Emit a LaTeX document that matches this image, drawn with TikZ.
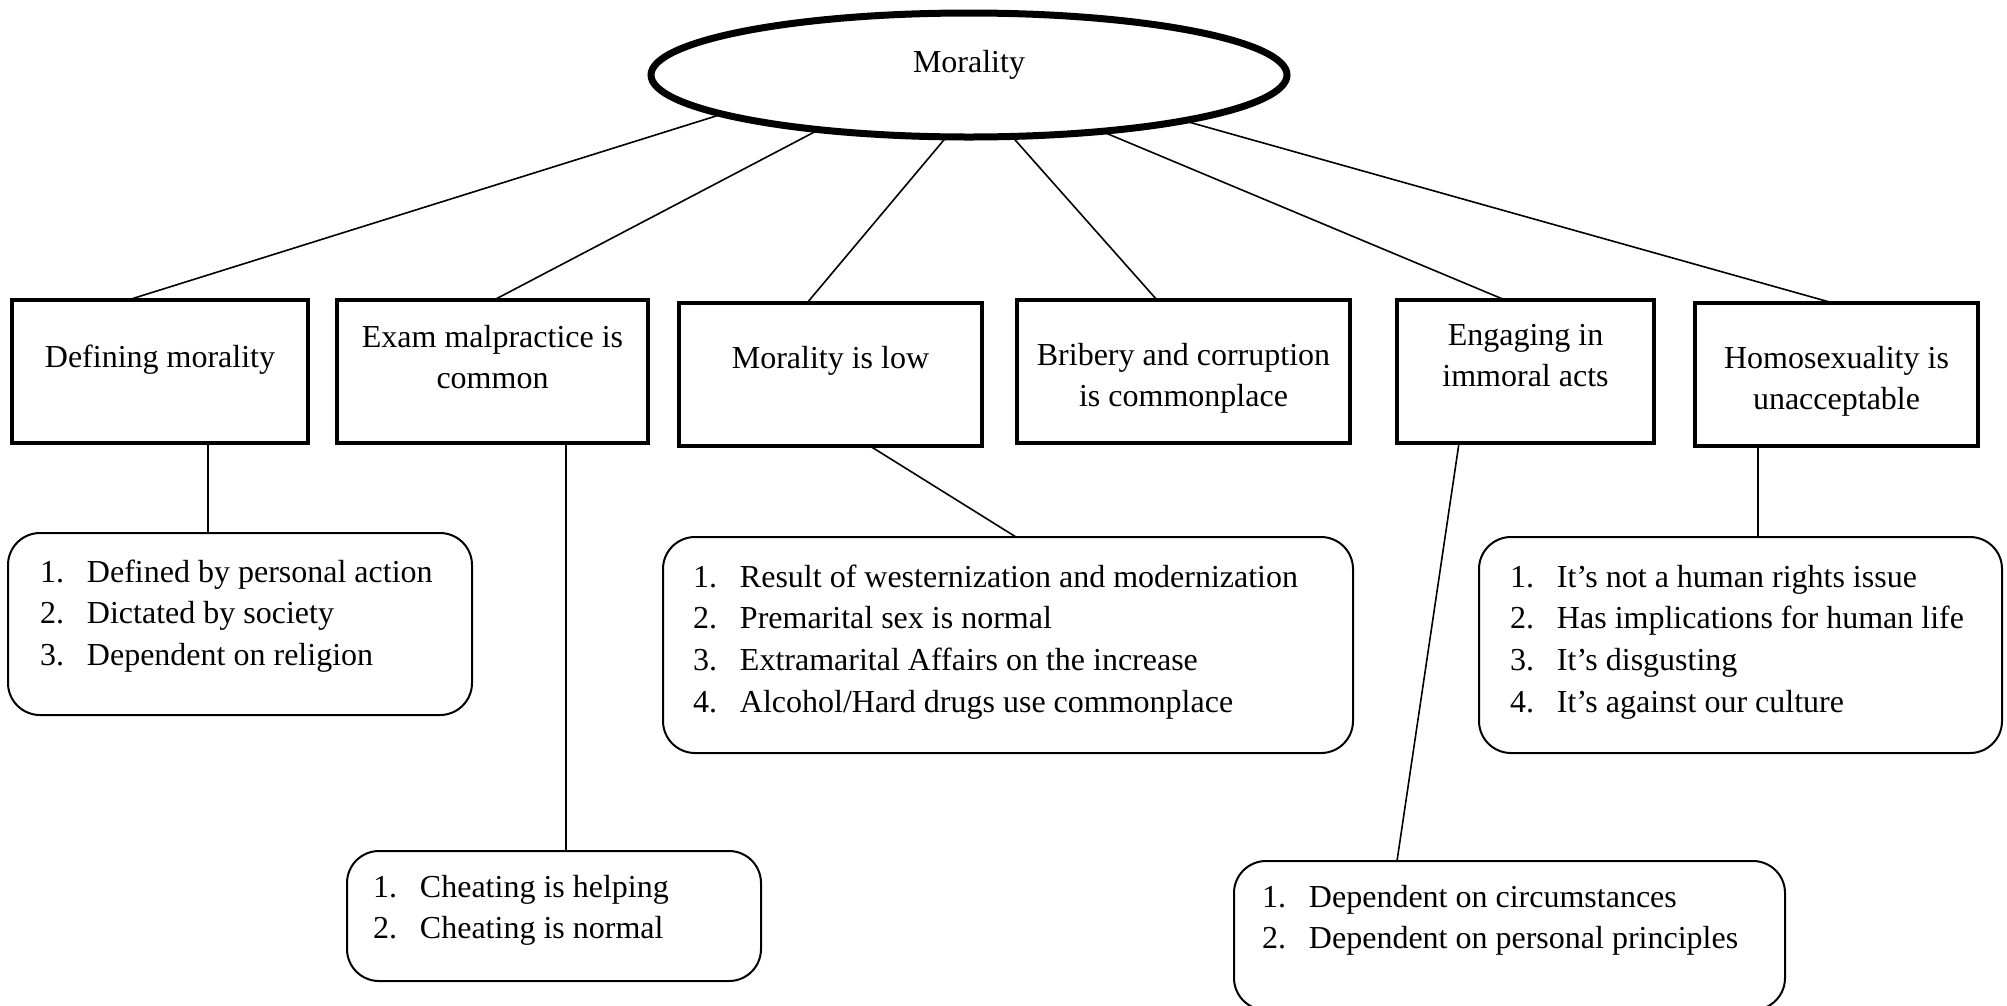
\documentclass[tikz,border=0pt]{standalone}
\usepackage{fontspec}
\setmainfont{Liberation Serif}
\usetikzlibrary{shapes.geometric,calc}
\newcommand\itemno[1]{\makebox[47pt][l]{#1}}
\begin{document}
\begin{tikzpicture}[x=1pt,y=-1pt,
  every node/.style={inner sep=0pt,outer sep=0pt},
  txt/.style={font=\fontsize{32}{41.7}\selectfont,anchor=base},
  listtxt/.style={font=\fontsize{32}{41.7}\selectfont,anchor=base west},
  topic/.style={draw,line width=4pt,rectangle},
  listbox/.style={draw,line width=2pt,rectangle,rounded corners=32pt},
  link/.style={line width=1.6pt}]

\fill[white] (0,0) rectangle (2007,1005);
\useasboundingbox (0,0) rectangle (2007,1005);

% central concept
\node[ellipse,draw,line width=7pt,minimum width=636pt,minimum height=124pt] (root) at (969,75) {};
\node[txt] (rootlabel) at (969,72) {Morality};

% themes
\node[topic,minimum width=296pt,minimum height=143pt] (b1) at (160,371.5) {};
\node[topic,minimum width=311pt,minimum height=143pt] (b2) at (492.5,371.5) {};
\node[topic,minimum width=303pt,minimum height=143pt] (b3) at (830.5,374.5) {};
\node[topic,minimum width=333pt,minimum height=143pt] (b4) at (1183.5,371.5) {};
\node[topic,minimum width=257pt,minimum height=143pt] (b5) at (1525.5,371.5) {};
\node[topic,minimum width=283pt,minimum height=143pt] (b6) at (1836.5,374.5) {};

\node[txt] (t1) at (160,367) {Defining morality};
\node[txt] (t2) at (492.5,347) {\begin{tabular}[t]{@{}c@{}}Exam malpractice is\\common\end{tabular}};
\node[txt] (t3) at (830.5,368) {Morality is low};
\node[txt] (t4) at (1183.5,365) {\begin{tabular}[t]{@{}c@{}}Bribery and corruption\\is commonplace\end{tabular}};
\node[txt] (t5) at (1525.5,345) {\begin{tabular}[t]{@{}c@{}}Engaging in\\immoral acts\end{tabular}};
\node[txt] (t6) at (1836.5,368) {\begin{tabular}[t]{@{}c@{}}Homosexuality is\\unacceptable\end{tabular}};

% sub-themes (the last one runs past the lower edge of the page)
\node[listbox,minimum width=464pt,minimum height=182pt] (lA) at (240,624) {};
\node[listbox,minimum width=414pt,minimum height=130pt] (lB) at (554,916) {};
\node[listbox,minimum width=690pt,minimum height=216pt] (lC) at (1008,645) {};
\node[listbox,minimum width=523pt,minimum height=216pt] (lD) at (1740.5,645) {};
\node[listbox,minimum width=551pt,minimum height=149pt] (lE) at (1509.5,935.5) {};

\node[listtxt] (sA) at (40,582) {\begin{tabular}[t]{@{}l@{}}
  \itemno{1.}Defined by personal action\\
  \itemno{2.}Dictated by society\\
  \itemno{3.}Dependent on religion\end{tabular}};
\node[listtxt] (sB) at (373,897) {\begin{tabular}[t]{@{}l@{}}
  \itemno{1.}Cheating is helping\\
  \itemno{2.}Cheating is normal\end{tabular}};
\node[listtxt] (sC) at (693,587) {\begin{tabular}[t]{@{}l@{}}
  \itemno{1.}Result of westernization and modernization\\
  \itemno{2.}Premarital sex is normal\\
  \itemno{3.}Extramarital Affairs on the increase\\
  \itemno{4.}Alcohol/Hard drugs use commonplace\end{tabular}};
\node[listtxt] (sD) at (1510,587) {\begin{tabular}[t]{@{}l@{}}
  \itemno{1.}It’s not a human rights issue\\
  \itemno{2.}Has implications for human life\\
  \itemno{3.}It’s disgusting\\
  \itemno{4.}It’s against our culture\end{tabular}};
\node[listtxt] (sE) at (1262,907) {\begin{tabular}[t]{@{}l@{}}
  \itemno{1.}Dependent on circumstances\\
  \itemno{2.}Dependent on personal principles\end{tabular}};

% links from the central concept
\draw[link] (root.189) -- ($(b1.north)+(-32,0)$);
\draw[link] (root.200) -- ($(b2.north)+(1.5,0)$);
\draw[link] (root.250) -- ($(b3.north)+(-23.5,0)$);
\draw[link] (root.305) -- ($(b4.north)+(-26.5,0)$);
\draw[link] (root.337) -- ($(b5.north)+(-20.5,0)$);
\draw[link] (root.348) -- ($(b6.north)+(-3.5,0)$);

% links to sub-themes
\draw[link] ($(b1.south)+(48,0)$) -- ($(lA.north)+(-32,0)$);
\draw[link] ($(b2.south)+(73.5,0)$) -- ($(lB.north)+(12,0)$);
\draw[link] ($(b3.south)+(39.5,0)$) -- ($(lC.north)+(8,0)$);
\draw[link] ($(b5.south)+(-66.5,0)$) -- ($(lE.north)+(-112.5,0)$);
\draw[link] ($(b6.south)+(-78.5,0)$) -- ($(lD.north)+(17.5,0)$);
\end{tikzpicture}
\end{document}
